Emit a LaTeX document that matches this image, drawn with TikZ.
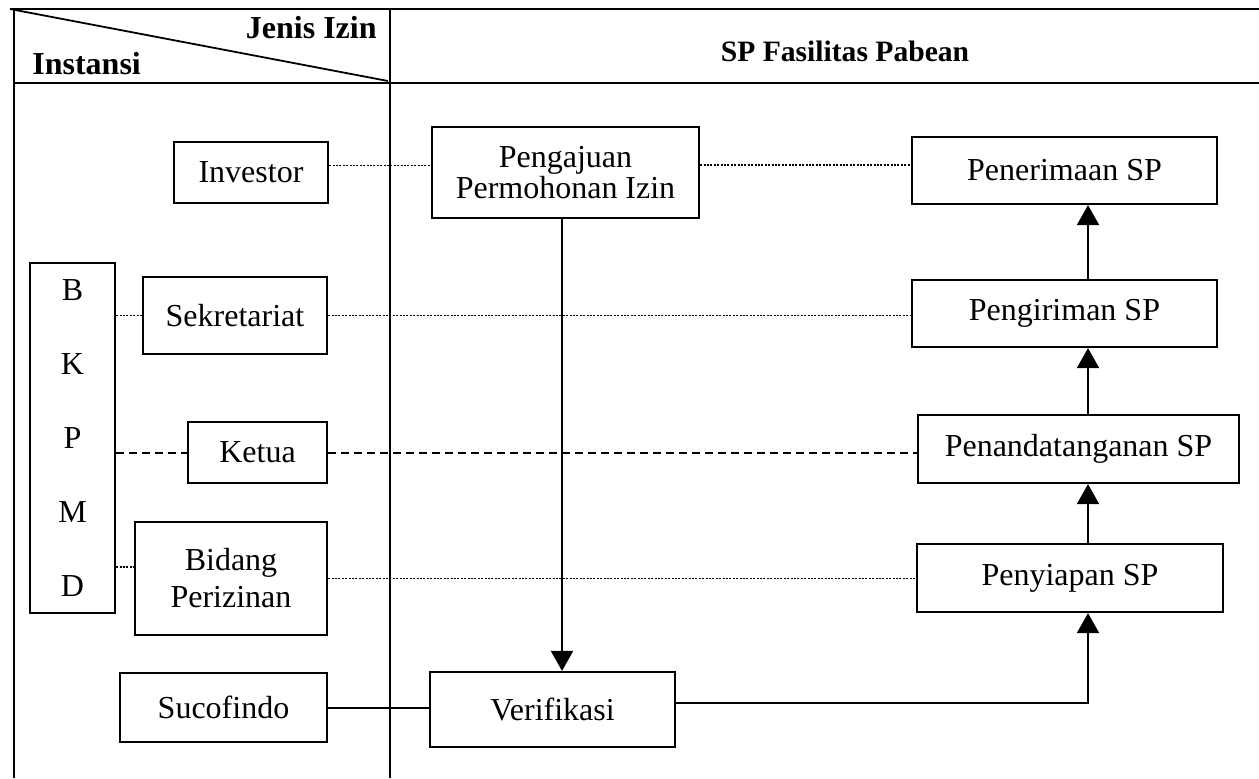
\documentclass[tikz,border=0pt]{standalone}
\usepackage{fontspec}
\setmainfont{Liberation Serif}
\usetikzlibrary{arrows.meta}
\begin{document}
\begin{tikzpicture}[x=0.5pt,y=-0.5pt,
  box/.style={draw, line width=1.1pt, inner sep=0pt, align=center, font=\fontsize{16}{15}\selectfont},
  grid/.style={line width=0.9pt},
  dotline/.style={line width=0.8pt, dash pattern=on 1pt off 0.7pt},
  dashline/.style={line width=1pt, dash pattern=on 4pt off 2.5pt},
  plainline/.style={line width=1pt},
  arr/.style={line width=1pt, -{Triangle[width=11pt,length=10pt]}},
  hdr/.style={font=\fontsize{16}{18}\selectfont\bfseries, inner sep=0pt}]
\useasboundingbox (0,0) rectangle (1259,778);
% table
\draw[grid] (10,9) -- (1259,9);
\draw[grid] (14,83) -- (1259,83);
\draw[grid] (14,9) -- (14,778);
\draw[grid] (390,9) -- (390,778);
\draw[grid] (10,9) -- (388,81);
\node[hdr, anchor=base east] (jenis) at (377,38) {Jenis Izin};
\node[hdr, anchor=base west] (inst) at (32,74) {Instansi};
\node[hdr, anchor=base, font=\fontsize{14.8}{16}\selectfont\bfseries] (sp) at (845,61) {SP Fasilitas Pabean};
% boxes
\node[box, minimum width=77pt, minimum height=30.5pt] (inv) at (251,172.5) {Investor};
\node[box, minimum width=133.5pt, minimum height=45.5pt, font=\fontsize{16}{14.5}\selectfont] (peng) at (565.5,172.5) {Pengajuan\\Permohonan Izin};
\node[box, minimum width=152.5pt, minimum height=33.5pt] (pener) at (1064.5,170.5) {Penerimaan SP};
\node[box, minimum width=152.5pt, minimum height=33.5pt] (pengir) at (1064.5,313.5) {Pengiriman SP};
\node[box, minimum width=160.5pt, minimum height=34pt] (pand) at (1078.5,449) {Penandatanganan SP};
\node[box, minimum width=153pt, minimum height=34pt] (peny) at (1070,578) {Penyiapan SP};
\node[box, minimum width=122.5pt, minimum height=37.5pt] (ver) at (552.5,709.5) {Verifikasi};
\node[box, minimum width=42.5pt, minimum height=175pt, font=\fontsize{16}{37}\selectfont] (bkpmd) at (72.5,438) {B\\K\\P\\M\\D};
\node[box, minimum width=92pt, minimum height=38.5pt] (sek) at (235,315.5) {Sekretariat};
\node[box, minimum width=69.5pt, minimum height=30.5pt] (ket) at (257.5,452.5) {Ketua};
\node[box, minimum width=96pt, minimum height=56.5pt, font=\fontsize{16}{18.5}\selectfont] (bid) at (231,578.5) {Bidang\\Perizinan};
\node[box, minimum width=103.5pt, minimum height=34.5pt] (suc) at (223.5,707.5) {Sucofindo};
% connectors
\coordinate (c1) at ([yshift=3.5pt]inv.east);
\draw[dotline] (c1) -- (c1 -| peng.west);
\coordinate (c2) at ([yshift=2.75pt]pener.west);
\draw[dotline] (peng.east |- c2) -- (c2);
\draw[dotline] (bkpmd.east |- sek.west) -- (sek.west);
\draw[dotline] (sek.east) -- (sek.east -| pengir.west);
\draw[dashline] (bkpmd.east |- ket.west) -- (ket.west);
\draw[dashline] (ket.east) -- (ket.east -| pand.west);
\coordinate (c3) at ([yshift=5.75pt]bid.west);
\draw[dotline] (bkpmd.east |- c3) -- (c3);
\draw[dotline] (bid.east) -- (bid.east -| peny.west);
\draw[plainline] (suc.east) -- (suc.east -| ver.west);
\coordinate (c5) at ([xshift=-1.75pt]peng.south);
\draw[arr] (c5) -- (c5 |- ver.north);
\coordinate (col) at (1088,0);
\coordinate (c4) at ([yshift=3.25pt]ver.east);
\draw[arr] (c4) -- (c4 -| col) -- (col |- peny.south);
\draw[arr] (col |- peny.north) -- (col |- pand.south);
\draw[arr] (col |- pand.north) -- (col |- pengir.south);
\draw[arr] (col |- pengir.north) -- (col |- pener.south);
\end{tikzpicture}
\end{document}
